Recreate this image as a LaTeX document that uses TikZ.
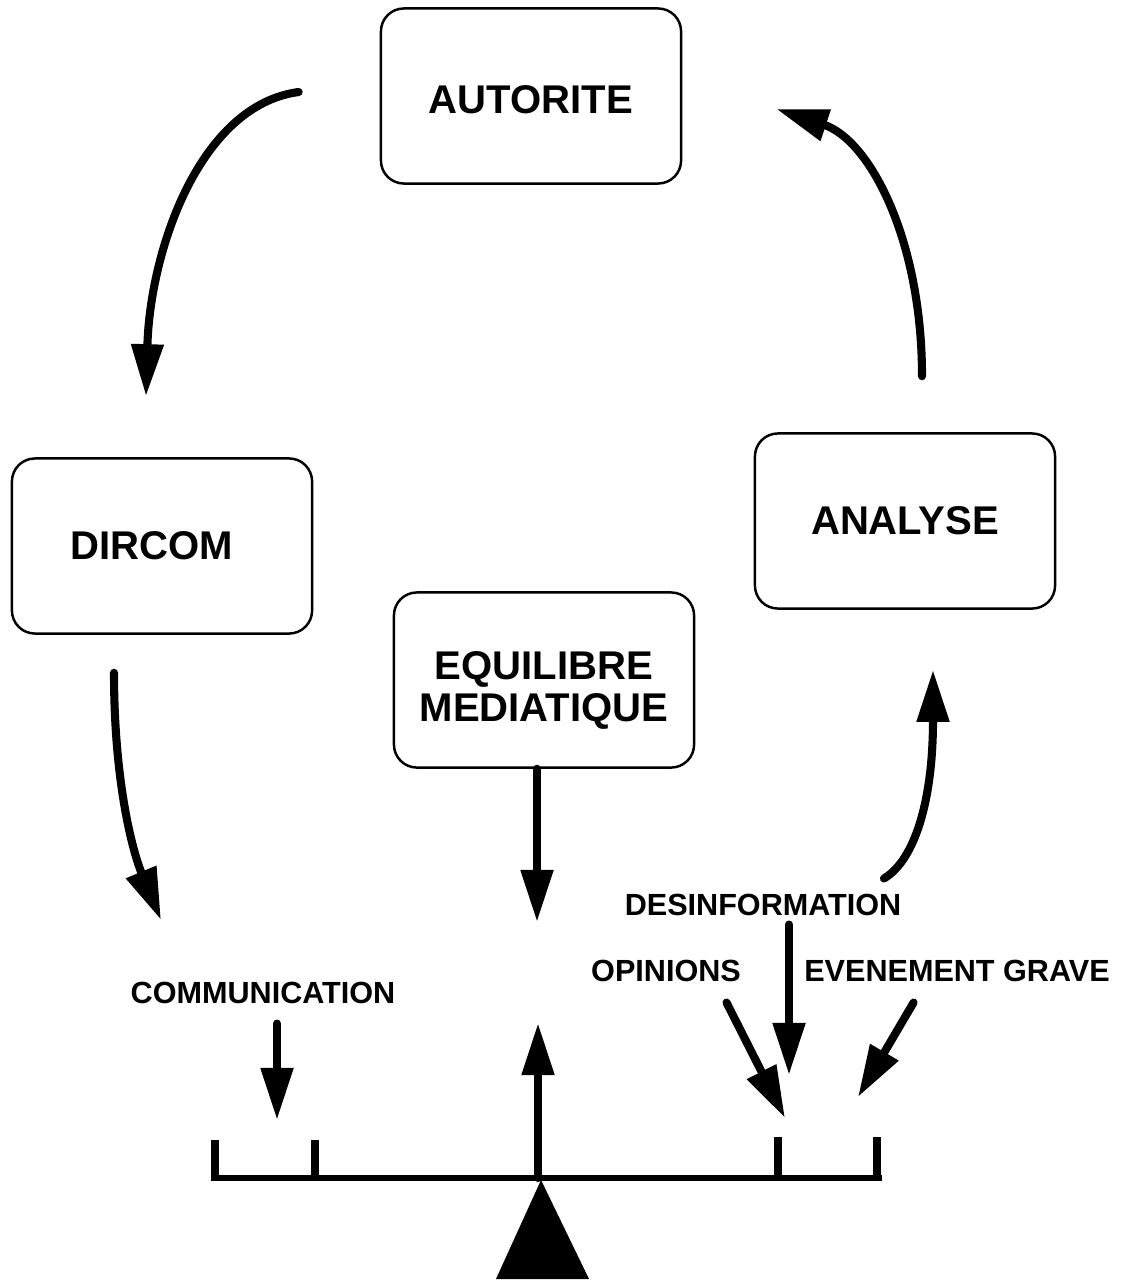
\documentclass[tikz,border=0pt]{standalone}
\usepackage{fontspec}
\setmainfont{Liberation Sans}
\usetikzlibrary{calc,arrows.meta}
\newcommand\boxfont{\fontsize{11.4pt}{12pt}\selectfont\bfseries}
\newcommand\labfont{\fontsize{8.7pt}{10pt}\selectfont\bfseries}
\tikzset{%
  >={Triangle[width=3.1mm,length=5.2mm]}, % wide filled heads
  box/.style={draw,rounded corners=2.3mm,line width=0.7pt,
    minimum width=3.0cm,minimum height=1.75cm,align=center,font=\boxfont},
  lab/.style={inner sep=0pt,font=\labfont},
  arr/.style={->,line width=2.3pt,line cap=round},
  tick/.style={line width=2.3pt},
}
\begin{document}
\begin{tikzpicture}[x=0.01cm,y=-0.01cm] % one unit = one pixel, y downwards

\useasboundingbox (0,0) rectangle (1125,1282);

%% boxes

\node[box] (autorite) at (531,96) {\rule{0pt}{0.35cm}AUTORITE};
\node[box] (dircom) at (162,546) {DIRCOM\hspace{0.2cm}};
\node[box] (analyse) at (905,521) {ANALYSE};
\node[box] (equilibre) at (544,680) {\rule{0pt}{0.49cm}EQUILIBRE\\MEDIATIQUE};

%% labels

\node[lab] (communication) at (263,993) {COMMUNICATION};
\node[lab] (desinfo) at (763,905) {DESINFORMATION};
\node[lab] (opinions) at (666,971) {OPINIONS};
\node[lab] (evenement) at (957,971) {EVENEMENT GRAVE};

%% scale

\coordinate (pivot) at (538,1178);
\coordinate (upTip) at (538,1023);
\coordinate (commTip) at (277,1120);
\coordinate (equiTip) at (537,922);
\coordinate (desTip) at (789,1075);
\coordinate (panR) at (785,1118);

\draw[line width=1.5pt] (211,1178) -- (882,1178);
\draw[tick] (215,1140) -- (215,1180);
\draw[tick] (315,1140) -- (315,1180);
\draw[tick] (778,1137) -- (778,1179);
\draw[tick] (877,1137) -- (877,1179);
\fill ($(pivot)+(3,2)$) -- (496,1279) -- (589,1279) -- cycle;

%% cycle arrows

\draw[arr] ($(autorite.west)+(-81,-4)$) .. controls (200,105) and (150,250)
    .. ($(dircom.north)+(-16,-61)$);
\draw[arr] ($(analyse.north)+(17,-56)$) .. controls (922,240) and (870,140)
    .. ($(autorite.east)+(94,13)$);
\draw[arr] ($(dircom.south)+(-48,38)$) .. controls (114,780) and (132,850)
    .. (161,920);
\draw[arr] ($(desinfo.north east)+(-18,-15)$) .. controls (915,860) and (933,800)
    .. ($(analyse.south)+(28,60)$);

%% straight arrows

\draw[arr] (equilibre.south -| equiTip) -- (equiTip);
\draw[arr] (pivot) -- (upTip);
\draw[arr,shorten <=0.19cm] (communication.south -| commTip) -- (commTip);
\draw[arr,shorten <=0.08cm] (desinfo.south -| desTip) -- (desTip);
\draw[arr] ($(opinions.south east)+(-15,20)$) -- (panR);
\draw[arr] ($(evenement.south west)+(110,20)$) -- (858,1097);

\end{tikzpicture}
\end{document}
